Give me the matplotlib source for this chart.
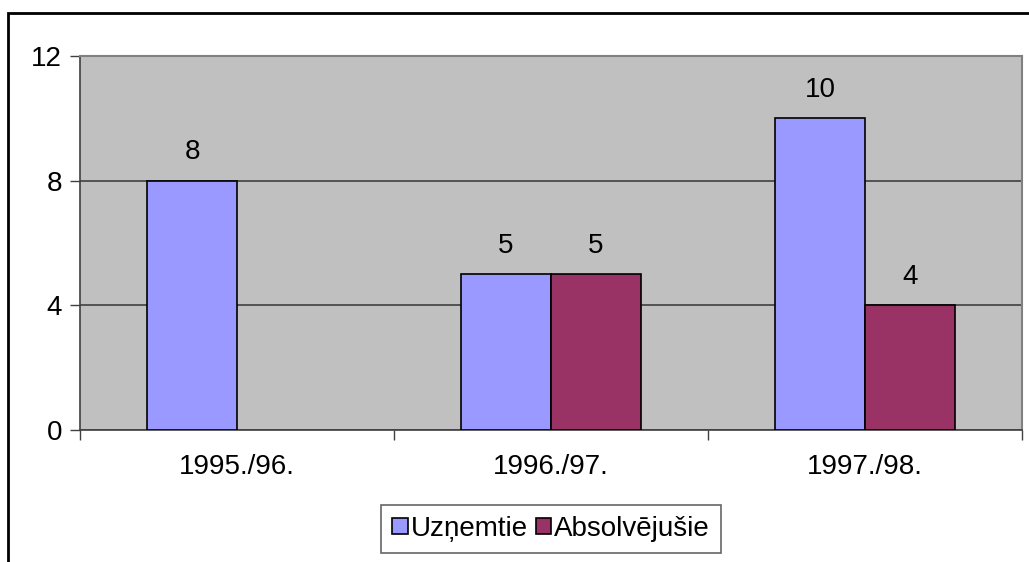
import numpy as np
import matplotlib.pyplot as plt
from matplotlib.patches import Rectangle

plt.rcParams['font.family'] = ['Liberation Sans', 'DejaVu Sans']

# Data
years = ['1995./96.', '1996./97.', '1997./98.']
uznemtie = [8, 5, 10]
absolvejusie = [None, 5, 4]
series_names = ['Uzņemtie', 'Absolvējušie']

W, H = 1029, 562
fs = 20
fig = plt.figure(figsize=(W / 100, H / 100), dpi=100)
ax = fig.add_axes([80 / W, 1 - 430 / H, 942 / W, 374 / H])

# outer chart frame (cut off at right and bottom)
fig.patches.append(Rectangle((8 / W, -0.1), 2, 1 - 13 / H + 0.1,
                             transform=fig.transFigure, fill=False,
                             edgecolor='black', linewidth=2))

ax.set_facecolor('#C0C0C0')
x = np.arange(len(years))
bw = 90 / 314

vals1 = np.array(uznemtie, dtype=float)
vals2 = np.array([np.nan if v is None else v for v in absolvejusie])

b1 = ax.bar(x - bw / 2, vals1, bw, color='#9999FF', edgecolor='black',
            linewidth=1.2, label=series_names[0], zorder=3)
b2 = ax.bar(x + bw / 2, vals2, bw, color='#993366',
            edgecolor='black', linewidth=1.2, label=series_names[1], zorder=3)

for xs, vs in [(x - bw / 2, vals1), (x + bw / 2, vals2)]:
    for xi, v in zip(xs, vs):
        if not np.isnan(v):
            ax.annotate(f'{v:g}', (xi, v), xytext=(0, 11), textcoords='offset points',
                        ha='center', va='bottom', fontsize=fs)

ax.set_xlim(-0.5, 2.5)
ax.set_ylim(0, 12)
ax.set_yticks([0, 4, 8, 12])
ax.yaxis.grid(True, color='#404040', linewidth=1.2, zorder=1)
ax.set_axisbelow(True)

ax.set_xticks(x)
ax.set_xticklabels(years, fontsize=fs)
ax.set_xticks([-0.5, 0.5, 1.5, 2.5], minor=True)
ax.tick_params(axis='x', which='major', length=0, pad=17)
ax.tick_params(axis='x', which='minor', length=7, width=1, color='#404040')
ax.tick_params(axis='y', length=7, width=1, color='#404040', labelsize=fs, pad=6)

for side in ['top', 'right']:
    ax.spines[side].set_color('#808080')
    ax.spines[side].set_linewidth(1.5)
for side in ['left', 'bottom']:
    ax.spines[side].set_color('#404040')
    ax.spines[side].set_linewidth(1.2)

leg = ax.legend(handles=[b1, b2], loc='upper center', bbox_to_anchor=(0.5, -0.2),
                ncol=2, frameon=True, fancybox=False, fontsize=fs,
                handlelength=0.55, handleheight=0.55, handletextpad=0.1,
                columnspacing=0.3, borderpad=0.4, borderaxespad=0,
                edgecolor='#404040')
leg.get_frame().set_linewidth(1.2)

fig.savefig('out.png', dpi=100)
